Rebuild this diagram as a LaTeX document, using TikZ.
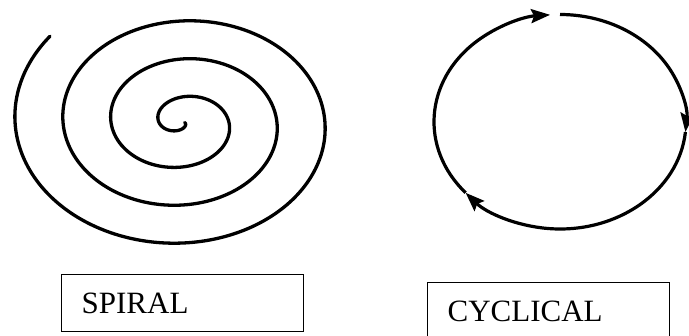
\documentclass[tikz,border=0pt]{standalone}
\usepackage{fontspec}
\setmainfont{Liberation Serif}
\usetikzlibrary{arrows.meta,calc}

\tikzset{
  curve/.style={line width=3.3pt,line cap=round},
  cyclearc/.style={line width=3.2pt,-{Stealth[length=19pt,width=14pt,inset=3pt]}},
  namebox/.style={draw,line width=1.3pt,anchor=north west,minimum height=57pt,
    inner xsep=20pt,text width=202pt,align=left,font=\fontsize{31}{36}\selectfont}
}

\begin{document}
\begin{tikzpicture}[x=1pt,y=1pt,>=Stealth]
\useasboundingbox (0,0) rectangle (689,-336);
\coordinate (spiralc) at (182,-122.5);
\coordinate (cyclec) at (560,-121.75);
% spiral, from the centre outwards
\draw[curve,shift={(spiralc)}] plot[domain=30:1300,samples=400,smooth,variable=\t]
  ({(0.1333*\t-1)*cos(\t)},{-(0.1056*\t-3)*sin(\t)});
% cycle, three arcs with heads
\foreach \a/\b in {90/-5.5,-5.5/-138.5,-138.5/-265.5}
  \draw[cyclearc] ($(cyclec)+(\a:126 and 107.25)$) arc[start angle=\a,end angle=\b,x radius=126,y radius=107.25];
\node[namebox] (spiral) at (61,-274) {SPIRAL};
\node[namebox] (cyclical) at (427,-282) {CYCLICAL};
\end{tikzpicture}
\end{document}
